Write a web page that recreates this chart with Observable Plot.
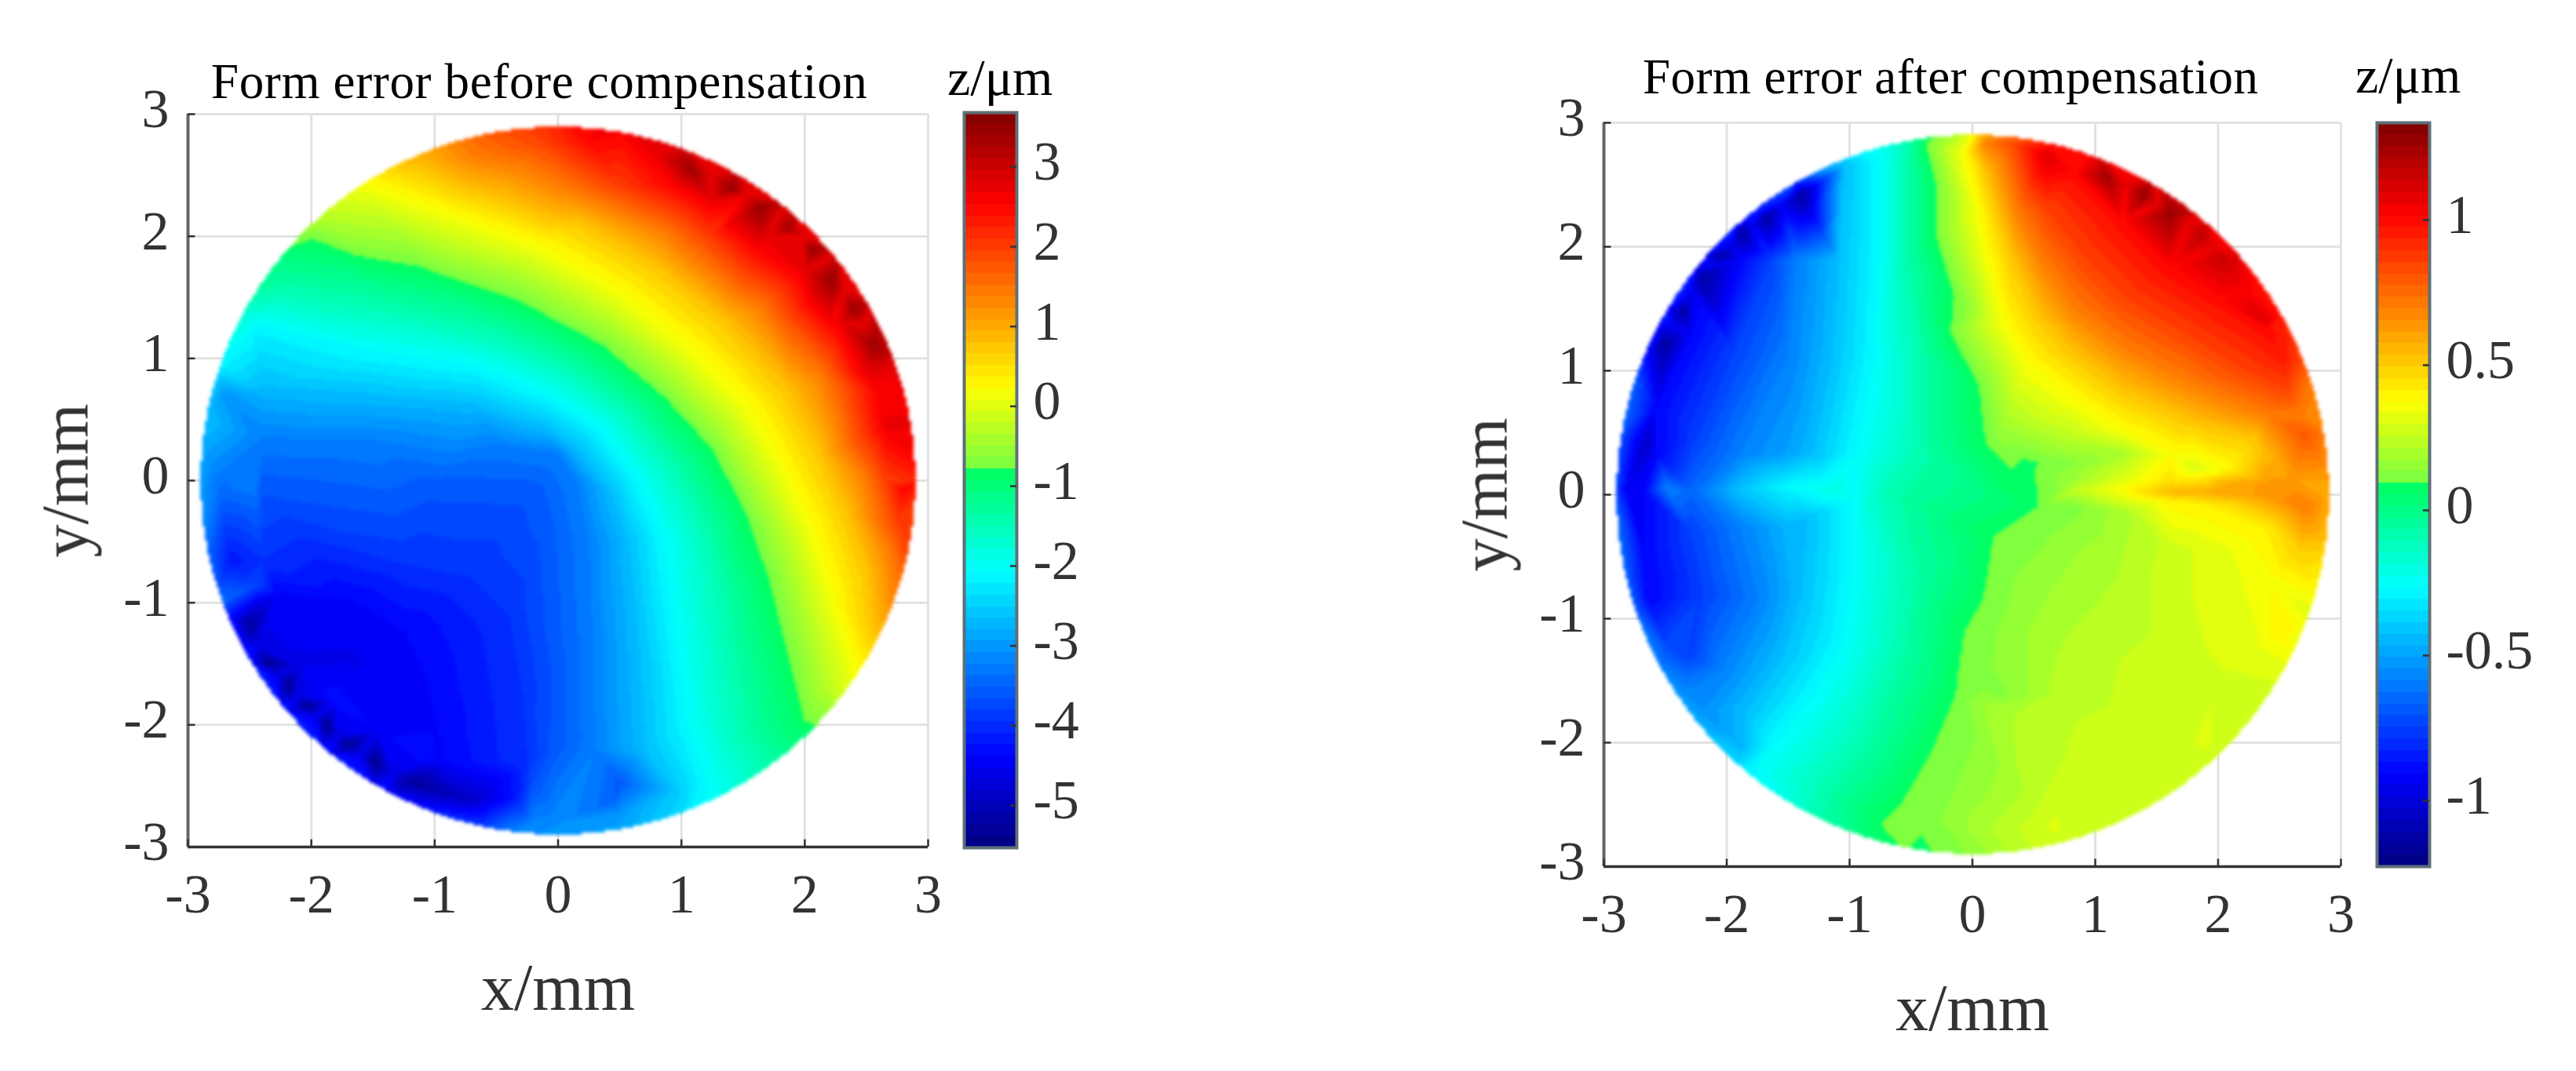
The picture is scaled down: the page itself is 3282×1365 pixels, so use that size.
<!DOCTYPE html>
<html><head><meta charset="utf-8">
<script src="https://cdn.jsdelivr.net/npm/d3@7"></script>
<script src="https://cdn.jsdelivr.net/npm/@observablehq/plot@0.6"></script>
<style>
html,body{margin:0;padding:0;background:#fff;overflow:hidden}
#page{position:relative;width:3282px;height:1365px;overflow:hidden;background:#fff}
#page>svg,#page>figure{position:absolute;margin:0}
.t{position:absolute;font-family:"Liberation Serif",serif;color:#000;white-space:nowrap;line-height:1}
svg{font-family:"Liberation Serif",serif}
svg text{filter:blur(.6px)}
svg image{filter:blur(2px)}
</style></head><body><div id="page"></div>
<script>
// ---- text
const titleBefore = "Form error before compensation";
const titleAfter = "Form error after compensation";
const unitLabel = "z/μm", xLabel = "x/mm", yLabel = "y/mm";
const axisTicks = [-3,-2,-1,0,1,2,3];
const barTicksBefore = [-5,-4,-3,-2,-1,0,1,2,3];
const barTicksAfter = [-1,-0.5,0,0.5,1];
const zDomainBefore = [-5.53,3.68];
const zDomainAfter = [-1.227,1.335];

// ---- colour map (position along bar, colour)
const mapStops = [0,0.125,0.375,0.51,0.5101,0.625,0.875,1];
const mapColors = ["#00007f","#0000ff","#00ffff","#00ff64","#6eff46","#ffff00","#ff0000","#7f0000"];
const mapLevels = 64;

// ---- BEFORE: samples, [x,y] in mm
const bLimeGreen=[[-2,1.96],[-1.1,1.72],[-.32,1.45],[.34,1.1],[.85,.67],[1.24,.24],[1.5,-.27],[1.7,-.85],[1.86,-1.5],[1.98,-1.98]];
const bCyan=[[-2.5,1.2],[-1.5,1.06],[-.7,.95],[-.09,.71],[.34,.43],[.65,0],[.85,-.46],[.95,-1.24],[1.05,-2],[1.2,-2.45]];
const bYellow=[[-1.53,2.38],[-.9,2.15],[-.2,1.9],[.46,1.53],[1.04,1.06],[1.5,.59],[1.78,.12],[2.02,-.38],[2.2,-.97],[2.35,-1.43]];
const bOrange=[[-.7,2.66],[.07,2.38],[.85,2.03],[1.63,1.41],[2.14,.83],[2.49,0],[2.68,-.58]];
const bRed=[[.27,2.79],[.93,2.42],[1.63,1.88],[2.21,1.29],[2.6,.71],[2.8,-.07]];
const bAzure=[[-2.4,.35],[-1.5,.33],[-.5,.3],[0,.22],[.15,0],[.25,-.5],[.28,-1.2],[.3,-2.2]];
const bBlue1=[[-2.4,-.05],[-1,-.05],[-.2,-.08],[-.1,-.4],[-.05,-1.2],[-.03,-2.2]];
const bBlue2=[[-2.4,-.65],[-1.2,-.7],[-.7,-.8],[-.4,-1.1],[-.3,-1.7],[-.25,-2.3]];
const bBlue3=[[-2.27,-.93],[-1.68,-1],[-1.29,-1.24],[-1.1,-1.63],[-1.02,-2],[-.95,-2.3]];
const bSky=[[-2.4,.75],[-1.5,.68],[-.7,.62],[-.1,.42],[.15,.25],[.42,-.1],[.55,-.5],[.62,-1.2],[.68,-2.2]];
const bSpring=[[-2.2,1.55],[-1.3,1.4],[-.5,1.2],[.1,.92],[.6,.55],[.95,.12],[1.18,-.35],[1.32,-.9],[1.4,-1.5],[1.5,-2.1],[1.65,-2.3]];
const bLime=[[-1.85,2.13],[-1,1.92],[-.25,1.68],[.4,1.3],[.95,.85],[1.37,.4],[1.63,-.08],[1.87,-.6],[2.03,-1.2],[2.15,-1.7]];
const bAmber=[[-1.1,2.55],[-.45,2.3],[.2,2.1],[.8,1.75],[1.35,1.3],[1.85,.75],[2.13,.2],[2.35,-.3],[2.5,-.75],[2.55,-1.2]];
const bVermilion=[[-.15,2.8],[.5,2.4],[1.2,2],[1.9,1.35],[2.37,.77],[2.65,0],[2.75,-.35]];
const bPureRed=[[.8,2.68],[1.25,2.3],[1.72,2.0],[2.0,1.72],[2.3,1.3],[2.5,.9],[2.68,.45]];
const bLines=[[bLimeGreen,-.83],[bCyan,-2.08],[bYellow,.12],[bOrange,1.38],[bRed,2.53],[bAzure,-3.23],[bBlue1,-3.6],[bBlue2,-3.95],[bBlue3,-4.4],[bSky,-2.7],[bSpring,-1.45],[bLime,-.35],[bAmber,.75],[bVermilion,1.95],[bPureRed,2.72]];
// single samples [x,y,z]: dark edge spots, bottom band, left strip
const bSpots=[[1.08,2.55,3.4],[1.41,2.39,3.5],[1.65,2.24,3.5],[1.88,2.07,3.4],[2.06,1.89,3.5],[2.23,1.65,3.5],[2.39,1.41,3.5],[2.56,1.1,3.4],
[1.25,2.5,2.75],[1.53,2.34,2.75],[1.78,2.17,2.75],[1.98,2.0,2.75],[2.16,1.8,2.75],[2.32,1.55,2.75],[2.48,1.27,2.75],[2.63,.9,2.75],
[-2.5,-1.18,-5.3],[-2.35,-1.49,-5.4],[-2.19,-1.69,-5.4],[-2.03,-1.84,-5.4],[-1.88,-2.01,-5.4],[-1.7,-2.16,-5.4],[-1.49,-2.31,-5.4],[-1.18,-2.47,-5.3],[-1.7,-1.45,-4.55],
[-2.43,-1.36,-4.6],[-2.27,-1.6,-4.6],[-2.11,-1.77,-4.6],[-1.96,-1.93,-4.6],[-1.79,-2.09,-4.6],[-1.6,-2.24,-4.6],[-1.34,-2.4,-4.6],
[-2.1,-1.5,-4.55],[-1.8,-1.8,-4.3],[-1.45,-2.05,-4.4],[-1.05,-2.28,-4.3],
[-.71,-2.62,-4.9],[-.35,-2.6,-4.2],[.46,-2.62,-3.5],[1,-2.55,-2.5],[.5,-2.48,-3.6],[-.2,-2.45,-3.7],[-.2,-2.8,-3.2],[0,-2.8,-3.1],[.5,-2.74,-3],
[-2.27,1.8,-1.1],[-2.46,1.22,-2.2],[-2.46,.71,-2.8],[-2.7,.71,-3],[-2.74,-.07,-3.4],[-2.66,-.65,-4.2],[-2.46,-.07,-3.3],[-2.42,-.85,-3.8]];
const bRimDeg=[0,-15,-30,-36,-42,-45,-50,-60,-70,-80,-90,-100,-110,-120,-130,-140,-150,-160,-170,180,170,160,150,140,135,125,115,105,100,90,80,70,60,50,40,30,20,10];
const bRimZ=[2.3,1.9,.6,.1,-.6,-1,-1.2,-1.7,-2.3,-2.8,-2.9,-3.2,-3.6,-4,-3.9,-3.8,-3.7,-3.3,-3,-2.7,-2.5,-2,-1.4,-.6,-.4,.2,1,1.6,1.9,2.3,2.7,2.7,2.7,2.7,2.7,2.8,2.8,2.7];

// ---- AFTER
const aCyan=[[-.77,2.67],[-.77,1.89],[-.81,1.11],[-.96,.33],[-1.51,.05],[-1,-.06],[-1,-.65],[-1.08,-1.23],[-1.32,-1.63],[-1.63,-2.02],[-1.75,-2.17]];
const aGreen=[[-.38,2.83],[-.3,2.09],[-.18,1.3],[.05,.88],[.11,.41],[.32,.21],[.54,-.1],[.17,-.34],[.09,-.84],[-.07,-1.12],[-.14,-1.63],[-.34,-2.09],[-.57,-2.48],[-.75,-2.66],[-.54,-2.88]];
const aMint=[[-.53,2.67],[-.53,1.89],[-.42,1.11],[-.42,.33],[-.65,.02],[-.5,-.65],[-.57,-1.23],[-.89,-2.02],[-1.2,-2.4],[-1.32,-2.64]];
const aAzure=[[-1.32,2.59],[-1.43,1.89],[-1.51,1.11],[-1.9,.33],[-2.49,.05],[-1.9,-.26],[-1.75,-.84],[-2.06,-1.43]];
const aBlue=[[-1.71,2.28],[-1.9,1.89],[-2.29,1.3],[-2.57,.72],[-2.57,.33],[-2.68,.02],[-2.68,-.45],[-2.64,-.84]];
const aYellow=[[-.07,2.75],[.05,2.28],[.13,1.89],[.25,1.42],[.44,1.07],[.83,.76],[1.22,.52],[1.61,.33],[2.04,.21]];
const aOrange=[[.11,2.83],[.36,2.28],[.56,1.89],[.83,1.5],[1.22,1.19],[1.81,.88],[2.39,.64],[2.67,.64]];
const aRed=[[.64,2.81],[.83,2.59],[1.22,2.2],[1.61,1.81],[2,1.58],[2.39,1.34]];
const aAmber=[[.1,2.6],[.2,2.28],[.33,1.89],[.53,1.45],[.8,1.15],[1.2,.85],[1.75,.6],[2.3,.45]];
const aDeepOrange=[[.35,2.82],[.6,2.28],[.9,1.9],[1.2,1.6],[1.7,1.3],[2.2,1],[2.55,.85]];
const aSky=[[-1.05,2.65],[-1.1,1.89],[-1.15,1.11],[-1.3,.33],[-1.35,-.2],[-1.4,-.8],[-1.55,-1.3],[-1.85,-1.75],[-2,-2]];
const aRoyal=[[-1.5,2.45],[-1.65,1.89],[-1.95,1.15],[-2.25,.45],[-2.3,-.3],[-2.2,-.8],[-2.3,-1.3]];
const aLines=[[aCyan,-.27],[aGreen,.095],[aMint,-.08],[aAzure,-.587],[aBlue,-.907],[aYellow,.37],[aOrange,.7],[aRed,1],[aAmber,.52],[aDeepOrange,.85],[aSky,-.43],[aRoyal,-.75]];
const aSpots=[[-1.39,2.42,-1.15],[-1.69,2.24,-1.15],[-1.88,2.11,-1.15],[-2.04,1.93,-1.15],[-2.2,1.75,-1.15],[-2.35,1.48,-1.15],[-2.51,1.21,-1.15],[-2.66,.41,-1.05],[-2.8,.04,-.95],
[-1.55,2.33,-.95],[-1.8,2.17,-.95],[-1.96,2.02,-.95],[-2.12,1.84,-.95],[-2.28,1.62,-.95],[-2.43,1.35,-.95],
[-2.49,-1.23,-.72],[-2.35,-1.51,-.6],[-2.2,-1.72,-.55],[-2.04,-1.9,-.5],[-1.88,-2.03,-.45],
[.6,2.73,1.1],[1.09,2.57,1.25],[1.4,2.42,1.3],[1.61,2.26,1.28],[1.87,2.09,1.18],[2.04,1.9,1.15],[2.38,1.38,1.1],[2.55,1.07,.95],[2.7,.48,.8],
[1.25,2.5,1.06],[1.5,2.34,1.06],[1.74,2.18,1.06],[1.96,2,1.06],[2.2,1.65,1.04],
[-.03,1.5,.15],[.25,.52,.17],[.83,.48,.25],[1.22,.33,.2],[.83,.25,.13],[.44,.25,.08],[1.81,.21,.3],
[.83,.12,.17],[1.22,.13,.3],[1.61,.11,.45],[2,.1,.55],[2,.02,.6],[1.22,-.05,.3],[2.39,.1,.62],
[.83,.04,.25],[1.22,.04,.38],[1.61,.02,.55],[2.39,-.02,.62],[2.7,-.1,.7],[.83,-.1,.12],[1.22,-.14,.2],[2,-.1,.42],[1.61,-.06,.4],[2.39,-.26,.42],[2.67,-.45,.5],
[2.39,.33,.55],[2,.17,.38],[2.59,.13,.62],
[.83,-.45,.17],[.32,-.65,.13],[1.14,-.45,.2],[.83,-.84,.2],[.44,-1.04,.17],[1.22,-.92,.23],[1.61,-.45,.27],[2,-.45,.32],[2.39,-.65,.36],[2.51,-1.04,.42],[2.32,-1.23,.33],[1.61,-1.23,.27],[.83,-1.43,.24],[.64,-1.63,.22],[.25,-1.63,.13],[.05,-1.55,.12],[.17,-1.74,.2],[.05,-2.02,.14],[.44,-2.4,.22],[.83,-2.02,.26],[1.42,-2.02,.27],[1.89,-2.02,.3],[2,-1.43,.29],[.17,-2.72,.22],[.64,-2.68,.3],[-.34,-2.6,.12],[-.18,-2.4,.13],[-.54,-2.68,.13],
[.32,.05,.06],[.25,-.06,.04],
[-1.51,.33,-.5],[-1.51,-.26,-.45],[-1.51,.03,-.3],[-1.9,.03,-.42],[-2.29,.02,-.65],[-1.12,.03,-.2],[-1,-.26,-.27]];
const aRimDeg=[0,-10,-20,-30,-40,-50,-60,-70,-80,-90,-100,-110,-120,-130,-140,-150,-160,-170,180,170,160,150,140,130,120,110,100,95,90,85,80,70,60,50,40,30,20,10];
const aRimZ=[.55,.45,.3,.3,.25,.25,.28,.27,.25,.13,.06,-.02,-.2,-.3,-.4,-.5,-.5,-.5,-.55,-.55,-.6,-.7,-.75,-.7,-.5,-.3,-.1,.05,.3,.6,.75,1,1.05,1.05,1,.9,.7,.65];

const discRadius = 2.9;
const rimSampleRadius = 3.0;
const toTable = (lines,spots,deg,rim)=>[
  ...lines.flatMap(([pts,z])=>pts.map(([x,y])=>({x,y,z}))),
  ...spots.map(([x,y,z])=>({x,y,z})),
  ...deg.map((d,i)=>({x:rimSampleRadius*Math.cos(d*Math.PI/180),y:rimSampleRadius*Math.sin(d*Math.PI/180),z:rim[i]}))
];
const mapFn = d3.scaleLinear().domain(mapStops).range(mapColors);
const bandsOf = ([lo,hi])=>d3.range(mapLevels).map(i=>({a:lo+(hi-lo)*i/mapLevels,b:lo+(hi-lo)*(i+1)/mapLevels,m:lo+(hi-lo)*(i+.5)/mapLevels,c:mapFn((i+.5)/mapLevels)}));
const colorOf = dom=>{const b=bandsOf(dom);return {type:"threshold",domain:b.slice(1).map(d=>d.a),range:b.map(d=>d.c)}};
// library interpolation, limited to the measured disc
const discInterp = (index,w,h,X,Y,V)=>{
  const W = Plot.interpolatorBarycentric()(index,w,h,X,Y,V);
  for(let j=0;j<h;j++)for(let i=0;i<w;i++){
    const u=((i+.5)/w-.5)*6, v=((j+.5)/h-.5)*6;
    if(u*u+v*v>discRadius*discRadius) W[j*w+i]=NaN;
  }
  return W;
};
const tickFont=70, labelFont=84;
const fmt=d=>String(d);
function mainPlot(data,dom,f){
  return Plot.plot({
    width:f.w,height:1365,marginLeft:f.l,marginRight:f.w-f.r,marginTop:f.t,marginBottom:1365-f.b,
    style:{background:"transparent",overflow:"visible"},
    x:{domain:[-3,3],axis:null},y:{domain:[-3,3],axis:null},
    color:colorOf(dom),
    marks:[
      Plot.ruleX(axisTicks,{stroke:"#e2e2e2",strokeWidth:3}),
      Plot.ruleY(axisTicks,{stroke:"#e2e2e2",strokeWidth:3}),
      Plot.raster(data,{x:"x",y:"y",fill:"z",x1:-3,x2:3,y1:-3,y2:3,pixelSize:3,interpolate:discInterp,imageRendering:"pixelated"}),
      Plot.ruleX([-3],{stroke:"#666",strokeWidth:4}),
      Plot.ruleY([-3],{stroke:"#333",strokeWidth:3.5}),
      Plot.ruleX(axisTicks,{y1:-3,y2:-2.94,stroke:"#333",strokeWidth:2.5}),
      Plot.ruleY(axisTicks,{x1:-3,x2:-2.94,stroke:"#333",strokeWidth:2.5}),
      Plot.axisX({anchor:"bottom",ticks:axisTicks,tickSize:0,tickPadding:f.xPad,tickFormat:fmt,fontSize:tickFont,fill:"#333",lineAnchor:"top",label:null}),
      Plot.axisY({anchor:"left",ticks:axisTicks,tickSize:0,tickPadding:f.yPad,tickFormat:fmt,fontSize:tickFont,fill:"#333",dy:-6,label:null}),
      Plot.text([xLabel],{text:d=>d,frameAnchor:"bottom",dy:f.xDy,fontSize:labelFont,fill:"#333",lineAnchor:"bottom"}),
      Plot.text([yLabel],{text:d=>d,frameAnchor:"left",dx:f.yDx,rotate:-90,textAnchor:"middle",fontSize:labelFont,fill:"#333"})
    ]
  });
}
function barPlot(dom,ticks,f){
  return Plot.plot({
    width:f.w,height:1365,marginLeft:f.l,marginRight:f.w-f.r,marginTop:f.t,marginBottom:1365-f.b,
    style:{background:"transparent",overflow:"visible"},
    x:{domain:[0,1],axis:null},y:{domain:dom,axis:null},
    color:colorOf(dom),
    marks:[
      Plot.rect(bandsOf(dom),{x1:0,x2:1,y1:"a",y2:"b",fill:"m",shapeRendering:"crispEdges"}),
      Plot.frame({stroke:"#5f6f76",strokeWidth:4}),
      Plot.ruleY(ticks,{x1:.88,x2:1,stroke:"#333",strokeWidth:2.5}),
      Plot.axisY({anchor:"right",ticks,tickSize:0,tickPadding:21,tickFormat:fmt,fontSize:tickFont,fill:"#333",dy:-6,label:null})
    ]
  });
}
const page=document.getElementById("page");
const put=(el,l,t)=>{el.style.position="absolute";el.style.left=l+"px";el.style.top=t+"px";page.appendChild(el)};
function label(txt,l,baseline,size,ls){
  const d=document.createElement("div");d.className="t";d.textContent=txt;
  d.style.fontSize=size+"px";d.style.letterSpacing=(ls||0)+"px";
  d.style.left=l+"px";d.style.top=(baseline-size*0.86)+"px";page.appendChild(d);
}
const bData=toTable(bLines,bSpots,bRimDeg,bRimZ), aData=toTable(aLines,aSpots,aRimDeg,aRimZ);
put(mainPlot(bData,zDomainBefore,{w:1210,l:239,r:1182,t:145,b:1079,xPad:34,yPad:24,xDy:207,yDx:-155}),0,0);
put(barPlot(zDomainBefore,barTicksBefore,{w:250,l:18,r:85,t:143,b:1080}),1210,0);
put(mainPlot(aData,zDomainAfter,{w:1000,l:163,r:1102,t:156,b:1104,xPad:34,yPad:24,xDy:208,yDx:-151}),1880,0);
put(barPlot(zDomainAfter,barTicksAfter,{w:254,l:18,r:85,t:156,b:1104}),3010,0);
label(titleBefore,269,127,63,.65);
label(unitLabel,1207,123,66,0);
label(titleAfter,2093,121,63,.45);
label(unitLabel,3001,120,66,0);
</script></body></html>
